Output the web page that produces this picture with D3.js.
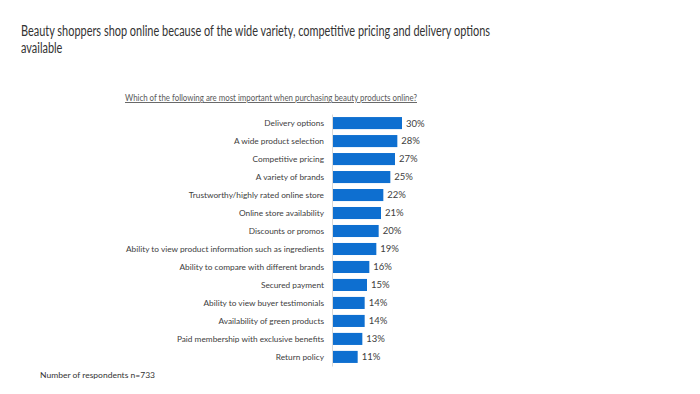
<!DOCTYPE html>
<html>
<head>
<meta charset="utf-8">
<script src="https://cdn.jsdelivr.net/npm/d3@7"></script>
<style>
  body { margin: 0; background: #fff; }
  text { font-family: Lato, sans-serif; }
</style>
</head>
<body>
<script>
// chart data
var categories = ["Delivery options", "A wide product selection", "Competitive pricing",
    "A variety of brands", "Trustworthy/highly rated online store", "Online store availability",
    "Discounts or promos", "Ability to view product information such as ingredients",
    "Ability to compare with different brands", "Secured payment",
    "Ability to view buyer testimonials", "Availability of green products",
    "Paid membership with exclusive benefits", "Return policy"];
var values = [30, 28, 27, 25, 22, 21, 20, 19, 16, 15, 14, 14, 13, 11];

var titleLines = ["Beauty shoppers shop online because of the wide variety, competitive pricing and delivery options",
    "available"];
var subtitle = "Which of the following are most important when purchasing beauty products online?";
var footnote = "Number of respondents n=733";

const width = 700;
const height = 394;

// squeeze a group of texts so the first one gets the wanted width
function squeeze(nodes, target) {
    var ratio = target / nodes[0].getComputedTextLength();
    nodes.forEach(function(n) {
        var w = n.getComputedTextLength();
        d3.select(n).attr("textLength", w * ratio).attr("lengthAdjust", "spacingAndGlyphs");
    });
}

var svg = d3.select("body")
    .append("svg")
    .attr("width", width)
    .attr("height", height);

// title
var title = svg.append("g").selectAll("text")
    .data(titleLines)
    .enter()
    .append("text")
    .attr("x", 21)
    .attr("y", function(d, i) { return 36 + i * 16.5; })
    .attr("font-size", 14.6)
    .attr("fill", "#333333")
    .text(function(d) { return d; });
squeeze(title.nodes(), 469);

// subtitle, underlined
var sub = svg.append("text")
    .attr("x", 125)
    .attr("y", 101)
    .attr("font-size", 9)
    .attr("fill", "#595959")
    .attr("text-decoration", "underline")
    .text(subtitle);
squeeze([sub.node()], 292);

// scales
var x = d3.scaleLinear().domain([0, 30]).range([332, 402]);
var y = d3.scaleBand().domain(categories).range([114, 366]).paddingInner(0.33).paddingOuter(0.17);

// bars
svg.append("g").selectAll("rect")
    .data(values)
    .enter()
    .append("rect")
    .attr("x", x(0))
    .attr("y", function(d, i) { return y(categories[i]); })
    .attr("width", function(d) { return x(d) - x(0); })
    .attr("height", y.bandwidth())
    .attr("fill", "#0e6fd0");

// axis line on the left of the bars
var axis = svg.append("g")
    .attr("transform", "translate(" + x(0) + ",0)")
    .call(d3.axisLeft(y).tickSize(0).tickPadding(8));
axis.select(".domain").attr("stroke", "#d9d9d9");
axis.selectAll("text")
    .attr("font-size", 8.3)
    .attr("fill", "#404040")
    .style("font-family", "Lato, sans-serif");
// longest label sets the squeeze for all
var labels = axis.selectAll("text").nodes();
labels.sort(function(a, b) { return b.getComputedTextLength() - a.getComputedTextLength(); });
squeeze(labels, 198);

// value labels
svg.append("g").selectAll("text")
    .data(values)
    .enter()
    .append("text")
    .attr("x", function(d) { return x(d) + 4; })
    .attr("y", function(d, i) { return y(categories[i]) + y.bandwidth() / 2; })
    .attr("dy", "0.36em")
    .attr("font-size", 9.5)
    .attr("fill", "#404040")
    .text(function(d) { return d + "%"; });

// footnote
var foot = svg.append("text")
    .attr("x", 40)
    .attr("y", 378)
    .attr("font-size", 7.5)
    .attr("fill", "#333333")
    .text(footnote);
squeeze([foot.node()], 115);
</script>
</body>
</html>
